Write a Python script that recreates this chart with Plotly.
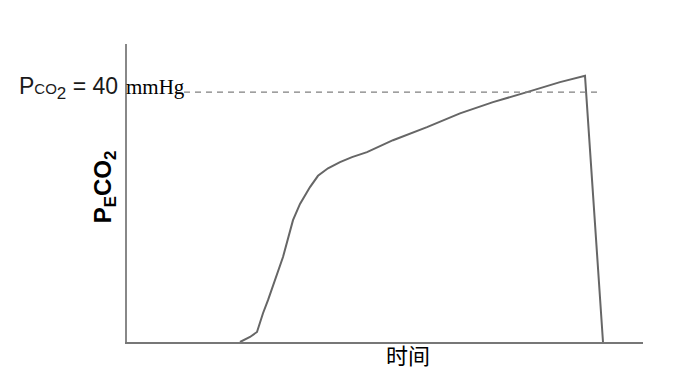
import plotly.graph_objects as go

# Capnogram data (time in arbitrary units, PECO2 in mmHg)
time_vals = [1.13, 1.23, 1.30, 1.36, 1.41, 1.56, 1.66, 1.73, 1.83, 1.91, 2.01, 2.13, 2.25, 2.40, 2.66, 3.00, 3.33, 3.66, 4.00, 4.33, 4.58, 4.76]
peco2_vals = [0.0, 0.8, 1.6, 4.6, 6.7, 13.6, 19.5, 22.1, 24.8, 26.6, 27.8, 28.8, 29.6, 30.4, 32.3, 34.4, 36.6, 38.4, 40.0, 41.6, 42.6, 0.0]

ref_level = 40
ref_x_start = 0.57
ref_x_end = 4.75
x_range = [0, 5.16]
y_range = [0, 47.7]

fig = go.Figure()
fig.add_trace(go.Scatter(
    x=time_vals, y=peco2_vals, mode="lines",
    line=dict(color="#666666", width=2),
    hoverinfo="skip", showlegend=False,
))

fig.add_shape(type="line", xref="x", yref="y",
              x0=ref_x_start, x1=ref_x_end, y0=ref_level, y1=ref_level,
              line=dict(color="#808080", width=1.2, dash="6px,5px"))

fig.add_annotation(
    xref="paper", yref="paper", x=-0.0136, y=0.852,
    xanchor="right", yanchor="middle", showarrow=False,
    text="P<span style='font-size:15px'>CO</span><sub><span style='font-size:17px'>2</span></sub> = 40",
    font=dict(family="Liberation Sans, Arial, sans-serif", size=23, color="#1a1a1a"),
)
fig.add_annotation(
    xref="paper", yref="paper", x=-0.0058, y=0.857,
    xanchor="left", yanchor="middle", showarrow=False,
    text="mmHg",
    font=dict(family="Liberation Serif, Times New Roman, serif", size=21, color="#000000"),
)
fig.add_annotation(
    xref="paper", yref="paper", x=-0.043, y=0.522,
    xanchor="center", yanchor="middle", showarrow=False, textangle=-90,
    text="<b>P<sub>E</sub>CO<sub>2</sub></b>",
    font=dict(family="Liberation Sans, Arial, sans-serif", size=24, color="#000000"),
)
fig.add_annotation(
    xref="paper", yref="paper", x=0.545, y=-0.04,
    xanchor="center", yanchor="middle", showarrow=False,
    text="时间",
    font=dict(family="Noto Sans CJK SC, sans-serif", size=22, color="#000000"),
)

fig.update_layout(
    width=692, height=371,
    margin=dict(l=119, r=57, t=36, b=37),
    paper_bgcolor="white", plot_bgcolor="white",
    xaxis=dict(range=x_range, showgrid=False, zeroline=False, showticklabels=False,
               ticks="", showline=True, linecolor="#777777", linewidth=2, fixedrange=True),
    yaxis=dict(range=y_range, showgrid=False, zeroline=False, showticklabels=False,
               ticks="", showline=True, linecolor="#888888", linewidth=2, fixedrange=True),
)

fig.write_html("out.html")
